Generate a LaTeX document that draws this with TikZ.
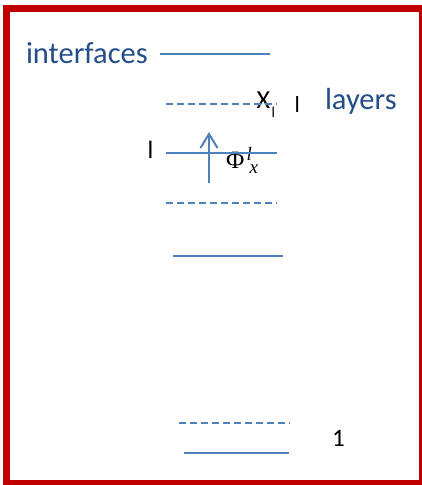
\documentclass[tikz,border=0pt]{standalone}
\usepackage{fontspec}
\setmainfont{Carlito}
\newfontfamily\phifont{Liberation Serif}
\usetikzlibrary{arrows.meta}
\definecolor{framered}{HTML}{C00000}
\definecolor{lineblue}{HTML}{4F81BD}
\definecolor{textblue}{RGB}{35,78,135}
\tikzset{
  solidline/.style={draw=lineblue,line width=2pt},
  dashline/.style={draw=lineblue,line width=2pt,dash pattern=on 7pt off 4pt},
  lbl/.style={inner sep=0pt,outer sep=0pt,anchor=base west},
  bluelbl/.style={lbl,text=textblue,font=\fontsize{30.5}{30.5}\selectfont},
  blacklbl/.style={lbl,text=black},
  mathlbl/.style={lbl,text=black,font=\phifont\fontsize{#1}{#1}\selectfont},
}
\begin{document}
\begin{tikzpicture}[x=1pt,y=-1pt]
\useasboundingbox (0,0) rectangle (422,485);
\clip (0,0) rectangle (422,485);
% frame
\draw[framered,line width=7pt] (6.5,8.5) rectangle (422.5,483.5);
% texts
\node[bluelbl] (interfaces) at (26,63) {interfaces};
\node[bluelbl] (layers) at (325,109) {layers};
\node[blacklbl,font=\fontsize{26}{26}\selectfont] (X) at (256.5,108.5) {X};
\node[blacklbl,font=\fontsize{15}{15}\selectfont] (Xsub) at (271.5,117) {l};
\node[blacklbl,font=\fontsize{23}{23}\selectfont] (lright) at (294.5,112) {l};
\node[blacklbl,font=\fontsize{25}{25}\selectfont] (lleft) at (147.5,158) {l};
\node[blacklbl,font=\fontsize{25}{25}\selectfont] (one) at (332,446) {1};
\node[mathlbl=25] (phi) at (226,168.5) {Φ};
\node[mathlbl=19] (phisup) at (246.5,160) {\itshape l};
\node[mathlbl=19] (phisub) at (249.5,173) {\itshape x};
% interface / layer lines
\coordinate (a1) at (160,54);  \coordinate (b1) at (270,54);
\coordinate (a2) at (166,104); \coordinate (b2) at (277,104);
\coordinate (a3) at (166,153); \coordinate (b3) at (277,153);
\coordinate (a4) at (166,203); \coordinate (b4) at (277,203);
\coordinate (a5) at (173,256); \coordinate (b5) at (283,256);
\coordinate (a6) at (179,423); \coordinate (b6) at (290,423);
\coordinate (a7) at (184,453); \coordinate (b7) at (289,453);
\draw[solidline] (a1) -- (b1);
\draw[dashline] (a2) -- (b2);
\draw[solidline] (a3) -- (b3);
\draw[dashline] (a4) -- (b4);
\draw[solidline] (a5) -- (b5);
\draw[dashline] (a6) -- (b6);
\draw[solidline] (a7) -- (b7);
% flux arrow
\coordinate (arrs) at (209,183);
\coordinate (arre) at (209,132);
\draw[lineblue,line width=2pt,-{Straight Barb[length=14pt,width=17pt,line width=2pt]}] (arrs) -- (arre);
\end{tikzpicture}
\end{document}
